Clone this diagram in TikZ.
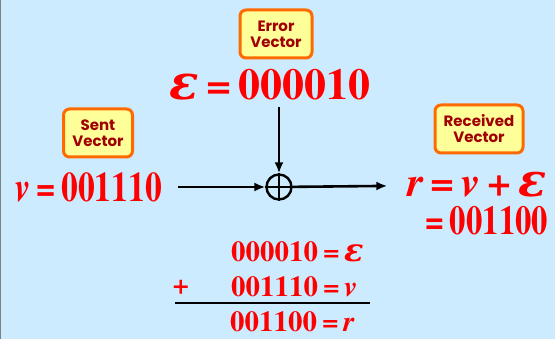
\documentclass[tikz,border=0pt]{standalone}
\usepackage{fontspec}
\setmainfont{texgyretermes}[
  Extension=.otf,
  UprightFont=*-regular,
  BoldFont=*-bold,
  ItalicFont=*-italic,
  BoldItalicFont=*-bolditalic]
\newfontfamily\tagfont{Poppins}
\newfontfamily\greekfont{DejaVu Serif}
\usepackage{xcolor}
\definecolor{bgBlue}{HTML}{CCEBFF}
\definecolor{tagFill}{HTML}{FFFF99}
\definecolor{tagEdge}{HTML}{FF6A00}
\definecolor{tagText}{HTML}{A00000}
\definecolor{eqRed}{HTML}{FF0000}
\usetikzlibrary{
  arrows.meta,
  positioning
}
\tikzset{
  tagbox/.style={
    draw=tagEdge,
    fill=tagFill,
    line width=3pt,
    rounded corners=6pt,
    align=center,
    font=\tagfont\bfseries\fontsize{15}{16}\selectfont,
    text=tagText,
    minimum height=48pt,
    inner sep=2pt
  },
  bigeq/.style={
    text=eqRed,
    font=\bfseries\fontsize{44}{46}\selectfont,
    inner sep=1pt
  },
  sumeq/.style={
    text=eqRed,
    font=\bfseries\fontsize{29}{31}\selectfont,
    inner sep=0pt,
    anchor=base west
  },
  flowarrow/.style={
    -{Latex[length=11pt,width=9pt]},
    line width=2.6pt,
    black
  }
}
\newcommand{\vv}{\textit{v}}
\newcommand{\ee}{{\greekfont\bfseries\itshape\scalebox{1.1}{ε}}}
\newcommand{\rr}{\textit{r}}
\newcommand{\squeeze}[1]{\scalebox{0.8}[1]{#1}}

\begin{document}
\begin{tikzpicture}[x=1pt, y=-1pt]
  \useasboundingbox (0,0) rectangle (555,339);
  % background
  \fill[bgBlue] (0,0) rectangle (555,339);
  \draw[gray, line width=1pt] (0.5,0) -- (0.5,339);

  % tags
  \node[tagbox, minimum width=72pt] (errtag) at (276,34) {Error\\Vector};
  \node[tagbox, minimum width=69pt] (senttag) at (98,133) {Sent\\Vector};
  \node[tagbox, minimum width=88pt] (rectag) at (479,129) {Received\\Vector};

  % equations
  \node[bigeq] (erreq) at (270,85) {\ee\,=\,000010};
  \node[bigeq, font=\bfseries\fontsize{42}{44}\selectfont] (sentv) at (89,187) {\squeeze{\vv\,=\,001110}};
  \node[bigeq, font=\bfseries\fontsize{42}{44}\selectfont] (recv) at (477,185) {\rr\,=\,\vv\,+\,\ee};
  \node[bigeq, font=\bfseries\fontsize{41}{43}\selectfont] (recval) at (487,221) {\squeeze{=\,001100}};

  % mod-2 adder
  \node[circle, draw, line width=2.4pt, minimum size=25pt, inner sep=0pt] (xorop) at (279,187) {};
  \draw[line width=2.2pt] (xorop.north) -- (xorop.south);
  \draw[line width=2.2pt] (xorop.west) -- (xorop.east);

  \draw[flowarrow, shorten <=5pt] (xorop |- erreq.south) -- (xorop);
  \draw[flowarrow, shorten <=15pt] (sentv) -- (xorop);
  \draw[flowarrow, shorten >=19pt] (xorop) -- (recv);

  % addition
  \node[sumeq] (sume) at (231,262) {000010\,=\,\ee};
  \node[sumeq] (sumv) at (231,297) {001110\,=\,\vv};
  \node[sumeq] (sumr) at (230,332) {001100\,=\,\rr};
  \node[sumeq, anchor=center] (plus) at (181,287) {+};
  \draw[line width=2.4pt] (175,303) -- (370,303);
\end{tikzpicture}
\end{document}
